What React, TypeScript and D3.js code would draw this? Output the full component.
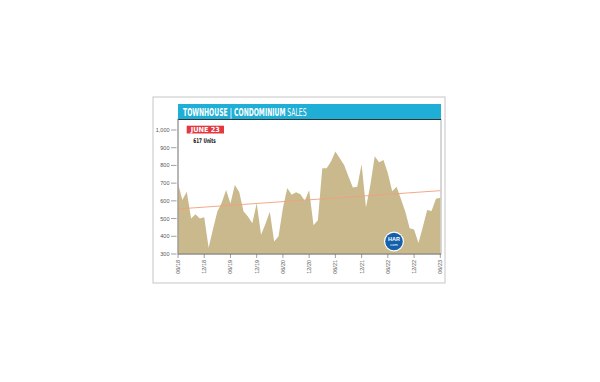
import React, { useLayoutEffect, useRef, useState } from "react";
import * as d3 from "d3";

const values: number[] = [
  700, 605, 652, 500, 524, 500, 507, 335, 440, 540,
  590, 661, 585, 690, 650, 540, 512, 473, 586, 408,
  470, 539, 370, 400, 560, 672, 635, 648, 638, 600,
  660, 462, 490, 784, 784, 822, 878, 840, 803, 737,
  676, 680, 806, 562, 690, 852, 818, 830, 756, 654,
  680, 610, 539, 445, 438, 362, 452, 548, 543, 612,
  617,
];
const tickLabels = ["06/18", "12/18", "06/19", "12/19", "06/20", "12/20", "06/21", "12/21", "06/22", "12/22", "06/23"];
const yTicks = [300, 400, 500, 600, 700, 800, 900, 1000];
const title = "TOWNHOUSE | CONDOMINIUM";
const titleSuffix = "SALES";
const badge = "JUNE 23";
const badgeSub = "617 Units";

export default function App() {
  const titleRef = useRef<SVGTextElement>(null);
  const [sx, setSx] = useState(0.8);
  useLayoutEffect(() => {
    if (titleRef.current) {
      const w = titleRef.current.getBBox().width;
      if (w > 0) setSx(123.5 / w);
    }
  }, []);

  const x = d3.scaleLinear().domain([0, 60]).range([178, 440.3]);
  const y = d3.scaleLinear().domain([300, 1000]).range([254, 130]);

  const area = d3
    .area<number>()
    .x((_, i) => x(i))
    .y0(y(300))
    .y1((d) => y(d))(values);

  // linear regression trend
  const n = values.length;
  const idx = d3.range(n);
  const mx = d3.mean(idx)!;
  const my = d3.mean(values)!;
  const slope =
    d3.sum(idx, (i) => (i - mx) * (values[i] - my)) / d3.sum(idx, (i) => (i - mx) * (i - mx));
  const inter = my - slope * mx;
  const trend = [inter, inter + slope * (n - 1)];

  const fmt = d3.format(",");
  const font = "'Liberation Sans Narrow', 'DejaVu Sans Condensed', Arial, sans-serif";

  return (
    <svg
      width={600}
      height={382}
      style={{ position: "absolute", left: 0, top: 0, background: "#fff" }}
      fontFamily="Arial, 'Liberation Sans', sans-serif"
    >
      {/* outer frame */}
      <rect x={153} y={97} width={292} height={186} fill="#fff" stroke="#cfcfcf" strokeWidth={1.2} />
      {/* plot box */}
      <rect x={178} y={119} width={263} height={135} fill="#fff" stroke="#9a9a9a" strokeWidth={0.8} />
      {/* title bar */}
      <rect x={178} y={104} width={263} height={15} fill="#1eaed6" />
      <line x1={178} x2={441} y1={119.5} y2={119.5} stroke="#333" strokeWidth={1} />
      <g transform={`translate(183,115.5) scale(${sx},1)`}>
        <text ref={titleRef} x={0} y={0} fill="#fff" fontSize={10} fontFamily={font}>
          <tspan fontWeight="bold">{title}</tspan>
          <tspan>{" " + titleSuffix}</tspan>
        </text>
      </g>

      {/* area */}
      <path d={area ?? ""} fill="#c9b98c" />
      {/* trend */}
      <line x1={x(0)} x2={x(n - 1)} y1={y(trend[0])} y2={y(trend[1])} stroke="#f0a07c" strokeWidth={0.9} />

      {/* axes */}
      <line x1={178} x2={178} y1={119} y2={254} stroke="#888" strokeWidth={0.8} />
      <line x1={178} x2={441} y1={254} y2={254} stroke="#777" strokeWidth={0.9} />
      {yTicks.map((t) => (
        <g key={t}>
          <line x1={171} x2={176.5} y1={y(t)} y2={y(t)} stroke="#777" strokeWidth={0.7} />
          <text x={169.5} y={y(t) + 2} fontSize={5.5} fill="#555" textAnchor="end">
            {fmt(t)}
          </text>
        </g>
      ))}
      {tickLabels.map((t, i) => {
        const xx = x(i * 6);
        return (
          <g key={t}>
            <line x1={xx} x2={xx} y1={254} y2={258} stroke="#777" strokeWidth={0.7} />
            <text
              transform={`translate(${xx + 2},${260}) rotate(-90)`}
              fontSize={5.5}
              fill="#555"
              textAnchor="end"
            >
              {t}
            </text>
          </g>
        );
      })}

      {/* badge */}
      <rect x={186.7} y={125.7} width={37.3} height={7.8} fill="#e2383f" />
      <text x={205.3} y={132.2} fontSize={7} fontWeight="bold" fill="#fff" textAnchor="middle" fontFamily={font} textLength={29} lengthAdjust="spacingAndGlyphs">
        {badge}
      </text>
      <text x={193.3} y={142.7} fontSize={6.5} fontWeight="bold" fill="#111" fontFamily={font} textLength={22.5} lengthAdjust="spacingAndGlyphs">
        {badgeSub}
      </text>

      {/* HAR logo */}
      <circle cx={394} cy={241.5} r={10} fill="#fff" />
      <circle cx={394} cy={241.5} r={8.8} fill="#1560ab" />
      <text x={394} y={241} fontSize={5.5} fontWeight="bold" fill="#fff" textAnchor="middle">HAR</text>
      <text x={394} y={246.3} fontSize={4} fill="#fff" textAnchor="middle">com</text>
    </svg>
  );
}
